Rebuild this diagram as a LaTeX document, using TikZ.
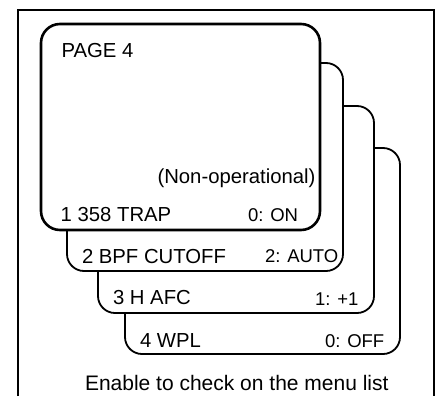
\documentclass[tikz,border=0pt]{standalone}
\usepackage{fontspec}
\setmainfont{Liberation Sans}
\begin{document}
\begin{tikzpicture}[x=1pt,y=-1pt,
  card/.style={draw=black, fill=white, rectangle, rounded corners=17pt, inner sep=0pt, outer sep=0pt, anchor=north west, line width=1.8pt},
  frontcard/.style={card, line width=2.6pt, rounded corners=19pt},
  lbl/.style={inner sep=0pt, outer sep=0pt, anchor=base west, font=\fontsize{20.3}{24}\selectfont},
  val/.style={inner sep=0pt, outer sep=0pt, anchor=base west, font=\fontsize{18.5}{22}\selectfont}]
\useasboundingbox (0,0) rectangle (443,396);
\draw[line width=2pt] (18,396) -- (18,10) -- (434,10) -- (434,396);
\node[card, minimum width=275pt, minimum height=206pt] (c4) at (125,148) {};
\node[card, minimum width=276pt, minimum height=207pt] (c3) at (98,106) {};
\node[card, minimum width=276pt, minimum height=208pt] (c2) at (67,63) {};
\node[frontcard, minimum width=279pt, minimum height=206pt] (c1) at (41,24) {};
\node[lbl] (page) at (61.5,57.7) {PAGE 4};
\node[lbl, anchor=base east] (nonop) at (315.5,183) {(Non-operational)};
\node[lbl] (t1) at (60.7,221.7) {1 358 TRAP};
\node[val] (v1) at (248,221.7) {0: ON};
\node[lbl] (t2) at (82,263.3) {2 BPF CUTOFF};
\node[val] (v2) at (265,262.8) {2: AUTO};
\node[lbl] (t3) at (113,304.5) {3 H AFC};
\node[val] (v3) at (315,305) {1: +1};
\node[lbl] (t4) at (140,347.3) {4 WPL};
\node[val] (v4) at (325,347) {0: OFF};
\node[lbl, font=\fontsize{21}{25}\selectfont] (cap) at (85,390) {Enable to check on the menu list};
\end{tikzpicture}
\end{document}
